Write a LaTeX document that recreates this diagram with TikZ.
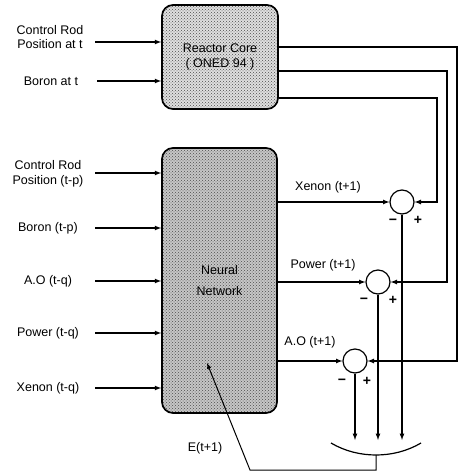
\documentclass[tikz,border=0pt]{standalone}
\usepackage{fontspec}
\setmainfont{Liberation Sans}
\usetikzlibrary{shapes,arrows,positioning,calc,patterns}

\begin{document}
\begin{tikzpicture}[x=1pt, y=-1pt, font=\fontsize{12.5}{14.5}\selectfont,
    block/.style={rectangle, draw, line width=1.7pt, rounded corners=11pt, pattern=crosshatch dots, pattern color=black!70, align=center},
    sumnode/.style={circle, draw, line width=1.2pt, minimum size=24pt, inner sep=0pt},
    lbl/.style={align=center, inner sep=1pt},
    sign/.style={inner sep=0pt, font=\fontsize{14}{15}\selectfont\bfseries},
    arrow/.style={->, >=latex, line width=1.2pt}]
  \useasboundingbox (0,0) rectangle (460,476);
  \node[block, minimum width=116pt, minimum height=104pt, preaction={fill=gray!25}] (core) at (220,57) {Reactor Core\\( ONED 94 )};
  \node[block, minimum width=115pt, minimum height=265pt, preaction={fill=gray!45}] (nn) at (219.5,280.5) {Neural\\[6pt]Network};
  % inputs of the core
  \node[lbl] (crt) at (50,37) {Control Rod\\Position at t};
  \coordinate (crt-in) at (95,42);
  \draw[arrow] (crt-in) -- (crt-in -| core.west);
  \node[lbl] (brt) at (51,81) {Boron at t};
  \coordinate (brt-in) at (97,81);
  \draw[arrow] (brt-in) -- (brt-in -| core.west);
  % inputs of the network
  \foreach \nm/\txt/\ly/\ay in {crp/{Control Rod\\Position (t-p)}/174/173, brp/{Boron (t-p)}/228/228,
      aoq/{A.O (t-q)}/281/281, pwq/{Power (t-q)}/333/333, xeq/{Xenon (t-q)}/388/388} {
    \node[lbl] (\nm) at (48,\ly) {\txt};
    \coordinate (\nm-in) at (95,\ay);
    \draw[arrow] (\nm-in) -- (\nm-in -| nn.west);
  }
  % comparators
  \node[sumnode] (sxe) at (402,202) {};
  \node[sumnode] (spw) at (378,282) {};
  \node[sumnode] (sao) at (355,361) {};
  \draw[arrow] (nn.east |- sxe) -- (sxe);
  \draw[arrow] (nn.east |- spw) -- (spw);
  \draw[arrow] (nn.east |- sao) -- (sao);
  \node (xel) at (328,187) {Xenon (t+1)};
  \node (pwl) at (323,265) {Power (t+1)};
  \node (aol) at (310,342) {A.O (t+1)};
  \draw[arrow] (core.east |- 0,98) -| (sxe -| 437,0) -- (sxe);
  \draw[arrow] (core.east |- 0,71) -| (spw -| 447,0) -- (spw);
  \draw[arrow] (core.east |- 0,47) -| (sao -| 457,0) -- (sao);
  \node[sign] at (393,222) {−};
  \node[sign] at (418,220) {+};
  \node[sign] at (364,301) {−};
  \node[sign] at (393,300) {+};
  \node[sign] at (342,382) {−};
  \node[sign] at (367,381) {+};
  % error
  \draw[arrow] (sxe) -- (sxe |- 0,440);
  \draw[arrow] (spw) -- (spw |- 0,440);
  \draw[arrow] (sao) -- (sao |- 0,440);
  \draw[line width=1.2pt] (331,443) .. controls (358,459) and (394,459) .. (421,443);
  \coordinate (err) at (376,455);
  \coordinate (nn-err) at (207,363);
  \draw[arrow, line width=1pt] (err) -- (376,470) -- (250,470) -- (nn-err);
  \node (el) at (205,448) {E(t+1)};
\end{tikzpicture}
\end{document}
